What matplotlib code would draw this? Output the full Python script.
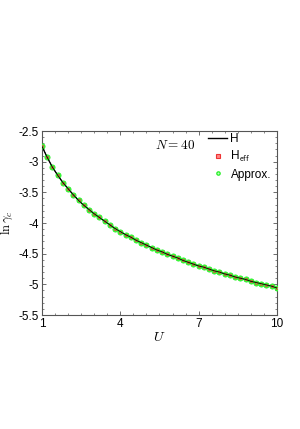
import numpy as np
import matplotlib
matplotlib.use("Agg")
from matplotlib import pyplot as plt
from matplotlib.ticker import MultipleLocator
from matplotlib.lines import Line2D

# values
U = [1.0, 1.2, 1.4, 1.6, 1.8, 2.0, 2.2, 2.4, 2.6, 2.8,
     3.0, 3.2, 3.4, 3.6, 3.8, 4.0, 4.2, 4.4, 4.6, 4.8,
     5.0, 5.2, 5.4, 5.6, 5.8, 6.0, 6.2, 6.4, 6.6, 6.8,
     7.0, 7.2, 7.4, 7.6, 7.8, 8.0, 8.2, 8.4, 8.6, 8.8,
     9.0, 9.2, 9.4, 9.6, 9.8, 10.0]
ln_gamma = [-2.75, -2.93, -3.09, -3.22, -3.34, -3.44, -3.54, -3.63, -3.71, -3.78,
            -3.85, -3.91, -3.97, -4.03, -4.09, -4.14, -4.19, -4.23, -4.28, -4.32,
            -4.36, -4.40, -4.44, -4.47, -4.51, -4.54, -4.57, -4.61, -4.64, -4.67,
            -4.70, -4.72, -4.75, -4.78, -4.80, -4.83, -4.85, -4.88, -4.90, -4.92,
            -4.95, -4.97, -4.99, -5.01, -5.03, -5.06]

x_ticks = [1, 4, 7, 10]
y_ticks = [-5.5, -5, -4.5, -4, -3.5, -3, -2.5]
y_labels = ["-5.5", "-5", "-4.5", "-4", "-3.5", "-3", "-2.5"]

plt.rcParams["mathtext.fontset"] = "cm"
plt.rcParams["font.family"] = ["Liberation Sans", "DejaVu Sans"]

fig = plt.figure(figsize=(3.0, 4.29), dpi=100)
ax = fig.add_axes([0.14, 0.2657, 0.783, 0.4289])

ax.plot(U, ln_gamma, color="black", lw=0.9, zorder=2)
ax.plot(U, ln_gamma, ls="none", marker="o", ms=3.7, mfc="#44ff44", mec="#22ee22",
        mew=0.6, zorder=3)
ax.plot(U, ln_gamma, ls="none", marker="s", ms=1.4, mfc="none", mec="#ee3333",
        mew=0.5, zorder=4)
ax.plot(U, ln_gamma, color="black", lw=0.6, zorder=5)

ax.set_xlim(1, 10)
ax.set_ylim(-5.5, -2.5)
ax.set_xticks(x_ticks)
ax.set_xticklabels([str(t) for t in x_ticks])
ax.set_yticks(y_ticks)
ax.set_yticklabels(y_labels)
ax.xaxis.set_minor_locator(MultipleLocator(0.5))
ax.yaxis.set_minor_locator(MultipleLocator(0.1))
ax.tick_params(which="both", direction="in", top=True, right=True,
               labelsize=8.5, color="#555555", pad=2)
ax.tick_params(which="major", length=3, width=0.6)
ax.tick_params(which="minor", length=1.5, width=0.5)
for s in ax.spines.values():
    s.set_color("#555555")
    s.set_linewidth(0.8)

ax.set_xlabel(r"$U$", fontsize=10, labelpad=0)
ax.set_ylabel(r"$\ln\gamma_c$", fontsize=9, labelpad=3)
ax.text(0.48, 0.92, r"$N=40$", transform=ax.transAxes, fontsize=9.5,
        ha="left", va="center")

handles = [
    Line2D([], [], color="black", lw=1.0),
    Line2D([], [], ls="none", marker="s", ms=2.2, mfc="#ff8888", mec="#ee3333", mew=0.8),
    Line2D([], [], ls="none", marker="o", ms=2.4, mfc="#bbffbb", mec="#22ee22", mew=0.9),
]
ax.legend(handles, ["H", r"H$_{\mathsf{eff}}$", "Approx."], loc="upper right",
          frameon=False, fontsize=8.5, handlelength=1.6, handletextpad=0.3,
          labelspacing=0.35, borderaxespad=0.1, bbox_to_anchor=(1.0, 1.02))

fig.savefig("out.png", dpi=100)
